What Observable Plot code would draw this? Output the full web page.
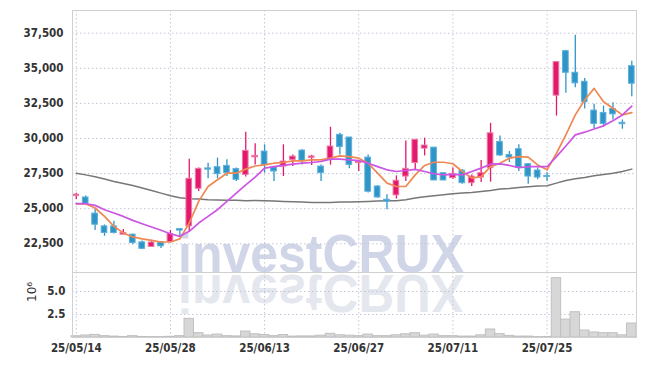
<!DOCTYPE html>
<html><head><meta charset="utf-8">
<script src="https://cdn.jsdelivr.net/npm/d3@7"></script>
<script src="https://cdn.jsdelivr.net/npm/@observablehq/plot@0.6"></script>
<style>
html,body{margin:0;padding:0;background:#fff}
#chart{width:645px;height:366px;overflow:hidden}
#chart svg{display:block}
</style>
</head><body><div id="chart"></div>
<script>
const dates = [
"25/05/14","25/05/15","25/05/16","25/05/19","25/05/20","25/05/21","25/05/22","25/05/23","25/05/26","25/05/27",
"25/05/28","25/05/29","25/05/30","25/06/02","25/06/04","25/06/05","25/06/09","25/06/10","25/06/11","25/06/12",
"25/06/13","25/06/16","25/06/17","25/06/18","25/06/19","25/06/20","25/06/23","25/06/24","25/06/25","25/06/26",
"25/06/27","25/06/30","25/07/01","25/07/02","25/07/03","25/07/04","25/07/07","25/07/08","25/07/09","25/07/10",
"25/07/11","25/07/14","25/07/15","25/07/16","25/07/17","25/07/18","25/07/21","25/07/22","25/07/23","25/07/24",
"25/07/25","25/07/28","25/07/29","25/07/30","25/07/31","25/08/01","25/08/04","25/08/05","25/08/06","25/08/07"];
const open = [
25900,25800,24650,23740,23740,23150,23150,22600,22280,22600,
22630,23550,23740,26420,27870,27960,28050,27820,27410,28660,
29070,27930,28000,28480,29140,28620,28000,28550,30260,30070,
28250,28640,26580,25640,25950,27290,28250,29280,29350,27530,
27180,27700,26820,27220,27890,29760,28830,29240,28170,27720,
27330,33050,36220,34680,34040,31990,31820,32100,31120,35150];
const high = [
26100,25900,25000,23840,24100,23510,23200,22700,22750,22650,
23450,23550,28530,27900,28240,28600,28480,27900,30450,29620,
29550,27990,29550,28830,29200,28800,28120,30800,30370,30070,
28400,28830,26650,25990,27340,29830,29950,30020,29350,27530,
27900,27800,27400,28430,31080,30180,29070,29550,28200,27890,
27580,35440,36290,37360,34280,32440,32310,32550,31320,35510];
const low = [
25650,25300,23440,23030,23200,23150,22440,22100,22250,22160,
22600,23030,23350,26230,27130,27130,27290,26940,27250,28120,
27530,26940,27290,28000,28120,28080,26940,28100,28830,27840,
27650,26110,25750,24930,25690,26940,27770,28760,27010,27010,
27100,26750,26580,26870,26890,28710,28290,27650,26750,27060,
26940,31600,33220,33610,32100,30700,30800,31320,30660,32980];
const close = [
26000,25350,23860,23270,23270,23270,22560,22140,22590,22320,
23200,23440,27130,27840,27780,27460,27530,27060,29120,28760,
28120,27650,28360,28710,28410,28720,27530,29430,29390,28120,
28350,26210,25800,25500,26990,27840,29900,29500,27010,27010,
27480,26820,27290,27530,30370,28790,28640,27930,27290,27220,
27260,35440,34680,33930,32580,31040,31040,31720,31020,33900];
const volume = [
0.14,0.22,0.28,0.15,0.10,0.06,0.15,0.06,0.05,0.05,
0.08,0.15,2.03,0.47,0.22,0.32,0.15,0.12,0.65,0.35,
0.27,0.15,0.27,0.10,0.12,0.12,0.20,0.40,0.24,0.20,
0.15,0.32,0.15,0.15,0.24,0.35,0.47,0.20,0.32,0.15,
0.15,0.10,0.10,0.24,0.87,0.37,0.17,0.10,0.10,0.05,
0.06,6.45,1.95,2.75,0.76,0.55,0.47,0.47,0.24,1.52];
const ma5 = [
25350,25350,25050,24450,23740,23270,22990,22850,22750,22630,
22630,22850,23980,25520,26580,27060,27530,27530,27820,28040,
28120,28240,28290,28410,28410,28480,28480,28600,28760,28710,
28600,28240,27530,26820,26580,26580,27410,28080,28310,28310,
28200,27650,27180,27290,28000,28240,28600,28710,28670,28120,
27770,28950,30260,31680,32740,33570,32620,32150,31680,31840];
const ma10 = [
25355,25355,25236,24930,24690,24450,24170,23930,23700,23460,
23220,23030,23390,23980,24450,24930,25520,26110,26700,27250,
27890,28000,28080,28170,28240,28290,28360,28530,28530,28480,
28430,28240,28000,27770,27650,27720,27800,27650,27490,27410,
27440,27410,27650,27890,28170,28190,28080,27930,27990,27990,
27990,28710,29470,30260,30450,30680,30900,31270,31680,32310];
const ma120 = [
27530,27410,27270,27110,26940,26800,26650,26470,26300,26110,
25920,25780,25710,25690,25640,25620,25600,25600,25570,25590,
25570,25550,25520,25500,25480,25450,25450,25450,25480,25480,
25500,25520,25550,25570,25570,25640,25760,25850,25920,25990,
26070,26110,26160,26230,26300,26400,26440,26510,26560,26610,
26630,26820,27010,27130,27220,27340,27440,27530,27650,27820];
const priceTicks = [22500,25000,27500,30000,32500,35000,37500];
const volTicks = [2.5,5.0];
const xTickIdx = [0,10,20,30,40,50];

const data = dates.map((d,i)=>({i, date:d, open:open[i], high:high[i], low:low[i], close:close[i],
  vol:volume[i], ma5:ma5[i], ma10:ma10[i], ma120:ma120[i]}));
const ups = data.filter(d=>d.close>=d.open);
const downs = data.filter(d=>d.close<d.open);

const UP="#e2196c", DOWN="#2f95c7";
const gridStroke="#c2c6da", dash="1.5,2.5";
const xDomain=[-0.4,59.5];
const style={fontFamily:"'DejaVu Sans Condensed', 'DejaVu Sans', sans-serif", fontSize:"11.5px", fontWeight:"bold", color:"#333", background:"#fff", overflow:"visible"};

const main = Plot.plot({
  width:645, height:272, marginLeft:72, marginRight:9, marginTop:10, marginBottom:0,
  style,
  x:{domain:xDomain, axis:null},
  y:{domain:[20456,39117], ticks:priceTicks, tickFormat:d3.format(","), tickSize:0, tickPadding:9, label:null},
  marks:[
    Plot.ruleY(priceTicks,{stroke:gridStroke, strokeDasharray:dash}),
    Plot.ruleX(xTickIdx,{stroke:gridStroke, strokeDasharray:dash}),
    Plot.line(data,{x:"i", y:"ma120", stroke:"#777", strokeWidth:1.5}),
    Plot.ruleX(ups,{x:"i", y1:"low", y2:"high", stroke:UP, strokeWidth:1.3}),
    Plot.ruleX(downs,{x:"i", y1:"low", y2:"high", stroke:DOWN, strokeWidth:1.3}),
    Plot.rect(ups,{x1:d=>d.i-0.3, x2:d=>d.i+0.3, y1:"open", y2:"close", fill:UP, stroke:"#ef7aa5", strokeWidth:1}),
    Plot.rect(downs,{x1:d=>d.i-0.3, x2:d=>d.i+0.3, y1:"open", y2:"close", fill:DOWN, stroke:"#5cb0da", strokeWidth:1}),
    Plot.line(data,{x:"i", y:"ma5", stroke:"#ef8853", strokeWidth:1.7}),
    Plot.line(data,{x:"i", y:"ma10", stroke:"#cc55e2", strokeWidth:1.7}),
    Plot.frame({stroke:"#d0d0d0"})
  ]
});

const vol = Plot.plot({
  width:645, height:94, marginLeft:72, marginRight:9, marginTop:0, marginBottom:29,
  style,
  x:{domain:xDomain, ticks:xTickIdx, tickFormat:i=>dates[i], tickSize:0, tickPadding:6, label:null},
  y:{domain:[0,7.07], ticks:volTicks, tickFormat:d3.format(".1f"), tickSize:0, tickPadding:7, label:null},
  marks:[
    Plot.ruleY(volTicks,{stroke:gridStroke, strokeDasharray:dash}),
    Plot.ruleX(xTickIdx,{stroke:gridStroke, strokeDasharray:dash}),
    Plot.rect(data,{x1:d=>d.i-0.5, x2:d=>d.i+0.5, y1:0, y2:"vol", fill:"#d7d7d7", stroke:"#c0c0c0", strokeWidth:1}),
    Plot.text(["10⁶"],{text:d=>d, frameAnchor:"left", dx:-40, dy:-3, rotate:-90, fontWeight:"normal", fontSize:12, fontFamily:"'DejaVu Sans', sans-serif", fill:"#333"}),
    Plot.frame({stroke:"#d0d0d0"})
  ]
});

function watermark(svg, y, flip, fill){
  const t = d3.select(svg).insert("text","g")
    .attr("x",178).attr("y",y)
    .attr("text-anchor","start")
    .attr("fill",fill)
    .attr("font-family","'Liberation Sans', Arial, sans-serif")
    .attr("font-weight","bold")
    .attr("font-size",53)
    .attr("textLength",286)
    .attr("lengthAdjust","spacingAndGlyphs")
    .text("investCRUX");
  if (flip) t.attr("transform","scale(1,-1)");
}
watermark(main, 271.5, false, "#d0d6e8");
watermark(vol, -3, true, "#e5e7ef");

const root=document.getElementById("chart");
root.appendChild(main);
root.appendChild(vol);
</script>
</body></html>
